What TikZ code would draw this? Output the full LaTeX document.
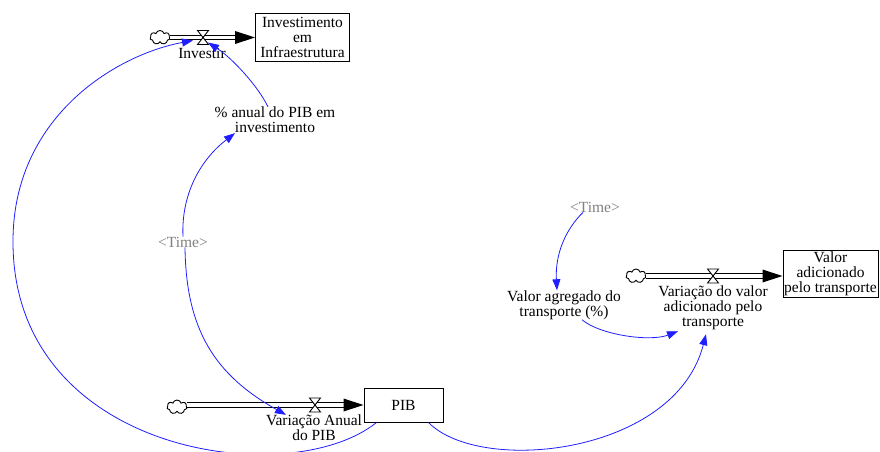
\documentclass[tikz,border=0pt]{standalone}
\usepackage{fontspec}
\setmainfont{Liberation Serif}
\usetikzlibrary{arrows.meta,shapes.symbols}
\definecolor{linkblue}{RGB}{30,30,255}
\definecolor{shadowgray}{RGB}{128,128,128}
\tikzset{
  lbl/.style={align=center, font=\fontsize{15.5}{15}\selectfont, inner sep=0pt},
  stock/.style={lbl, draw, line width=1pt, inner sep=1pt},
  shadowvar/.style={lbl, text=shadowgray},
  link/.style={draw=linkblue, line width=0.8pt, -{Triangle[length=11pt,width=8pt]}},
  pipe/.style={double distance=3.2pt, line width=1.1pt},
  cloudy/.style={cloud, cloud puffs=7, draw, line width=0.9pt, minimum width=20pt,
    minimum height=14pt, inner sep=0pt, aspect=1.5},
  valveshape/.style={draw, line width=0.9pt, fill=white},
}
\begin{document}
\begin{tikzpicture}[x=1pt, y=-1pt]
\useasboundingbox (0,0) rectangle (880,452);

% ---- stocks ----
\node[stock, minimum width=94pt, minimum height=48pt] (inv) at (302.5,37.5)
  {Investimento\\em\\Infraestrutura};
\node[stock, minimum width=79pt, minimum height=34pt] (pib) at (403.5,405) {PIB};
\node[stock, minimum width=95pt, minimum height=47pt] (vat) at (830.5,273.5)
  {Valor\\adicionado\\pelo transporte};

% ---- sources ----
\node[cloudy] (cl1) at (160,37.5) {};
\node[cloudy] (cl2) at (177,407) {};
\node[cloudy] (cl3) at (636,276) {};

% ---- flow pipes ----
\coordinate (t1) at (inv.west);
\coordinate (t2) at (pib.west);
\coordinate (t3) at (vat.west |- cl3.east);
\draw[pipe] (cl1.east |- t1) -- ([xshift=-16pt]t1);
\fill (t1) -- ++(-20,6.5) -- ++(0,-13) -- cycle;
\draw[pipe] (cl2.east |- t2) -- ([xshift=-16pt]t2);
\fill (t2) -- ++(-20,6.5) -- ++(0,-13) -- cycle;
\draw[pipe] (cl3.east) -- ([xshift=-16pt]t3);
\fill (t3) -- ++(-20,6.5) -- ++(0,-13) -- cycle;

% ---- valves ----
\coordinate (v1) at (203,37.5);
\coordinate (v2) at (315,405);
\coordinate (v3) at (713,276);
\foreach \v in {v1,v2,v3}
  \draw[valveshape] (\v) ++(-5.5,-7) -- ++(11,0) -- ++(-11,14) -- ++(11,0) -- cycle;

% ---- flow labels ----
\node[lbl] (investir) at (202,53) {Investir};
\node[lbl] (vapib) at (314,428) {Variação Anual\\do PIB};
\node[lbl] (vdv) at (713,308) {Variação do valor\\adicionado pelo\\transporte};

% ---- auxiliaries ----
\node[lbl] (pct) at (275,120) {\% anual do PIB em\\investimento};
\node[lbl] (vag) at (564,305) {Valor agregado do\\transporte (\%)};
\node[shadowvar] (time1) at (183,242) {<Time>};
\node[shadowvar] (time2) at (595,207) {<Time>};

% ---- causal links ----
\draw[link] ([xshift=13pt]pib.south west)
  .. controls (290,492) and (14,455) .. (13,243)
  .. controls (12,118) and (115,55) .. ([shift={(-10,3)}]v1);
\draw[link] ([xshift=-7pt]pct.north)
  .. controls (258,86) and (232,58) .. ([shift={(5,5)}]v1);
\draw[link] (time1.north)
  .. controls (181,195) and (200,160) .. ([xshift=-40pt]pct.south);
\draw[link] ([xshift=2pt]time1.south)
  .. controls (186,330) and (215,375) .. ([xshift=-28pt]vapib.north);
\draw[link] ([xshift=-15pt]pib.south east)
  .. controls (480,475) and (675,455) .. ([shift={(-7,4)}]vdv.south);
\draw[link] ([xshift=18pt]vag.south)
  .. controls (600,335) and (650,342) .. ([shift={(-35,1)}]vdv.south);
\draw[link] ([xshift=-12pt]time2.south)
  .. controls (565,230) and (555,255) .. ([xshift=-7pt]vag.north);
\end{tikzpicture}
\end{document}
